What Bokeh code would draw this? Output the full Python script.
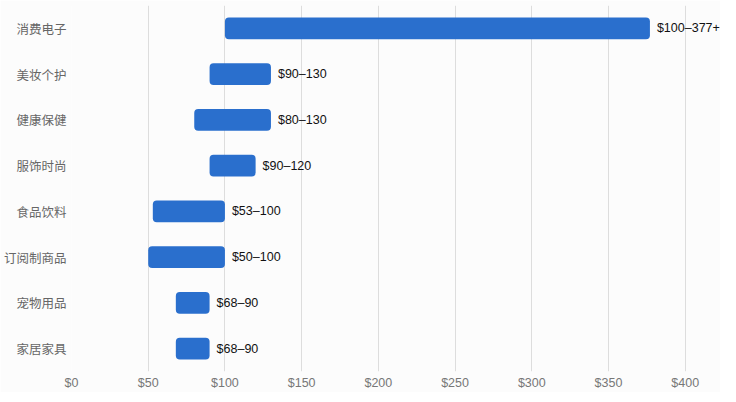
from bokeh.plotting import figure
from bokeh.models import ColumnDataSource, FixedTicker, NumeralTickFormatter, Range1d, LabelSet
from bokeh.embed import file_html
from bokeh.resources import INLINE
from bokeh.core.properties import value

categories = ["消费电子", "美妆个护", "健康保健", "服饰时尚", "食品饮料", "订阅制商品", "宠物用品", "家居家具"]
low = [100, 90, 80, 90, 53, 50, 68, 68]
high = [377, 130, 130, 120, 100, 100, 90, 90]
labels = ["$100–377+", "$90–130", "$80–130", "$90–120", "$53–100", "$50–100", "$68–90", "$68–90"]
ticks = [0, 50, 100, 150, 200, 250, 300, 350, 400]

src = ColumnDataSource(dict(cat=categories, low=low, high=high, label=labels))

p = figure(width=720, height=392, y_range=list(reversed(categories)),
           x_range=Range1d(0, 423), output_backend="svg", toolbar_location=None,
           min_border_left=0, min_border_right=0, min_border_top=5, min_border_bottom=0)
p.background_fill_color = "#fcfcfc"
p.border_fill_color = "#fcfcfc"
p.outline_line_color = None

p.hbar(y="cat", left="low", right="high", height=0.48, source=src,
       fill_color="#2a6fcd", line_color=None, border_radius=4)
value_labels = LabelSet(x="high", y="cat", text="label", source=src, x_offset=7,
                        text_align="left", text_baseline="middle",
                        text_font_size=value("12.5px"), text_color="#111111",
                        text_font=value("Liberation Sans"))
p.add_layout(value_labels)

p.xaxis.ticker = FixedTicker(ticks=ticks)
p.xaxis.formatter = NumeralTickFormatter(format="$0")
p.xaxis.axis_line_color = None
p.xaxis.major_tick_line_color = None
p.xaxis.minor_tick_line_color = None
p.xaxis.major_tick_out = 0
p.xaxis.major_tick_in = 0
p.xaxis.major_label_text_color = "#777777"
p.xaxis.major_label_text_font = "Liberation Sans"
p.xaxis.major_label_text_font_size = "12.5px"
p.xaxis.major_label_standoff = 4

p.yaxis.axis_line_color = None
p.yaxis.major_tick_line_color = None
p.yaxis.minor_tick_line_color = None
p.yaxis.major_tick_out = 0
p.yaxis.major_tick_in = 0
p.yaxis.major_label_text_color = "#666666"
p.yaxis.major_label_text_font = "Noto Sans CJK SC"
p.yaxis.major_label_text_font_size = "12.5px"
p.yaxis.major_label_standoff = 5

p.xgrid.grid_line_color = "#dddddd"
p.ygrid.grid_line_color = None

open("out.html", "w").write(file_html(p, INLINE))
